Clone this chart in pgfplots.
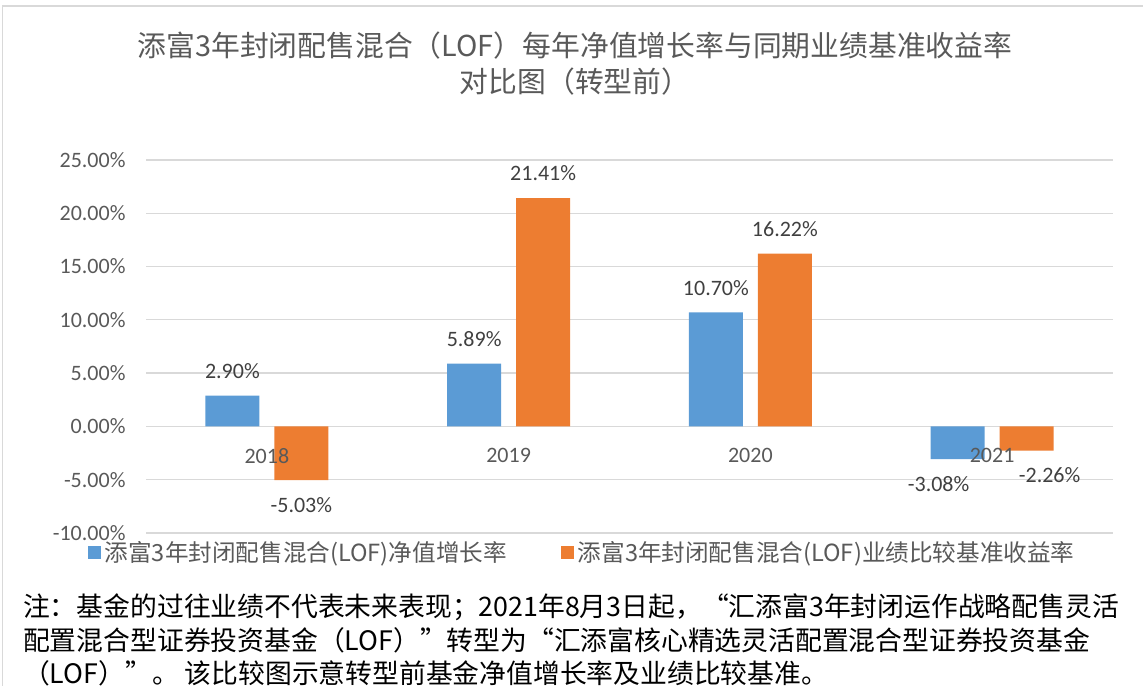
\documentclass[border=0pt]{standalone}
\usepackage{pgfplots}
\pgfplotsset{compat=1.18}
\usepackage{pgfplotstable}
\usepackage{fontspec}
\setmainfont{Carlito}
\newfontfamily\cjk{Noto Sans CJK SC}
\newfontfamily\lat{Carlito}
\definecolor{cblue}{HTML}{5B9BD5}
\definecolor{corange}{HTML}{ED7D31}
\definecolor{cgrid}{HTML}{D9D9D9}
\definecolor{ctext}{HTML}{595959}
\definecolor{clab}{HTML}{404040}

\pgfplotstableread{
x y dx
0 2.90 0
1 5.89 0
2 10.70 0
3 -3.08 -19
}\nav
\pgfplotstableread{
x y dx
0 -5.03 0
1 21.41 0
2 16.22 0
3 -2.26 23
}\bench

\begin{document}
\begin{tikzpicture}[x=1bp,y=1bp]
\useasboundingbox (0,0) rectangle (1143,686);
\draw[cgrid, line width=1.5bp] (2.5,-5) -- (2.5,680) -- (1150,680);
\node[text=ctext, anchor=center] at (575,640) {\cjk\fontsize{28.8bp}{32bp}\selectfont 添富3年封闭配售混合（LOF）每年净值增长率与同期业绩基准收益率};
\node[text=ctext, anchor=center] at (575,604) {\cjk\fontsize{28.8bp}{32bp}\selectfont 对比图（转型前）};

\begin{axis}[
  at={(146bp,153bp)}, anchor=south west,
  scale only axis, width=967bp, height=373bp,
  xmin=-0.5, xmax=3.5, ymin=-10, ymax=25,
  ytick={-10,-5,0,5,10,15,20,25},
  xtick={0,1,2,3}, xticklabels={},
  /pgf/number format/assume math mode=true,
  axis line style={draw=none},
  major tick length=0pt, tick style={draw=none},
  ymajorgrids, grid style={cgrid, line width=1.3bp},
  yticklabel={\pgfmathprintnumber[fixed,fixed zerofill,precision=2]{\tick}\%},
  yticklabel style={font=\lat\fontsize{22bp}{24bp}\selectfont, text=ctext, xshift=-17bp},
  ybar=15bp, bar width=54bp,
  nodes near coords={\pgfmathprintnumber[fixed,fixed zerofill,precision=2]{\pgfplotspointmeta}\%},
  visualization depends on={\thisrow{dx} \as \dx},
  every node near coord/.append style={font=\lat\fontsize{22bp}{24bp}\selectfont, text=clab, inner ysep=17bp, xshift=\dx*1bp},
  legend columns=2,
  legend style={draw=none, fill=none, at={(rel axis cs:0.452,-0.051)}, anchor=center,
    font=\cjk\fontsize{23.6bp}{26bp}\selectfont, text=ctext,
    /tikz/every even column/.append style={column sep=50bp},
    nodes={inner xsep=4bp},
    inner sep=0pt},
  legend image code/.code={\path[#1, draw=none] (0bp,-6.5bp) rectangle (13bp,6.5bp);},
  clip=false,
]
\addplot[fill=cblue, draw=none] table[x=x, y=y] {\nav};
\addplot[fill=corange, draw=none] table[x=x, y=y] {\bench};
\legend{添富3年封闭配售混合(LOF)净值增长率, 添富3年封闭配售混合(LOF)业绩比较基准收益率}
\foreach \i/\yr in {0/2018,1/2019,2/2020,3/2021}{
  \edef\tmp{\noexpand\node[anchor=north, inner sep=0pt, yshift=-22bp, text=ctext, font=\noexpand\lat\noexpand\fontsize{22bp}{24bp}\noexpand\selectfont] at (axis cs:\i,0) {\yr};}
  \tmp
}
\end{axis}

\node[anchor=west, text=black, inner sep=0pt] at (23,79) {\cjk\fontsize{26.8bp}{30bp}\selectfont 注：基金的过往业绩不代表未来表现；2021年8月3日起，“汇添富3年封闭运作战略配售灵活};
\node[anchor=west, text=black, inner sep=0pt] at (23,46) {\cjk\fontsize{26.8bp}{30bp}\selectfont 配置混合型证券投资基金（LOF）”转型为“汇添富核心精选灵活配置混合型证券投资基金};
\node[anchor=west, text=black, inner sep=0pt] at (23,13) {\cjk\fontsize{26.8bp}{30bp}\selectfont （LOF）”。 该比较图示意转型前基金净值增长率及业绩比较基准。};
\end{tikzpicture}
\end{document}
